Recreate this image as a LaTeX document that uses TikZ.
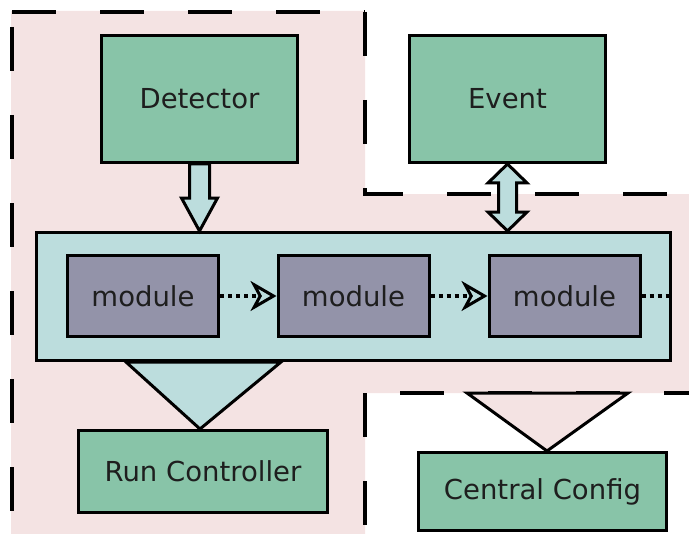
\documentclass[tikz,border=0pt]{standalone}
\usepackage{fontspec}
\setmainfont{DejaVu Sans}
\usetikzlibrary{arrows.meta,calc}
\definecolor{boxgreen}{RGB}{136,196,168}
\definecolor{contcyan}{RGB}{188,221,221}
\definecolor{modgray}{RGB}{147,147,169}
\definecolor{bgpink}{RGB}{244,227,227}
\definecolor{txt}{RGB}{30,30,30}
\tikzset{
  outer/.style={draw=black, line width=1.5pt, fill=boxgreen, inner sep=0pt,
    minimum width=98pt, minimum height=63.5pt, text=txt, font=\fontsize{13.75pt}{16pt}\selectfont},
  modbox/.style={draw=black, line width=1.5pt, fill=modgray, inner sep=0pt,
    minimum width=75.5pt, minimum height=40.5pt, text=txt, font=\fontsize{13.75pt}{16pt}\selectfont},
  contbox/.style={draw=black, line width=1.5pt, fill=contcyan, inner sep=0pt,
    minimum width=317pt, minimum height=64pt},
  border/.style={draw=black, line width=2pt, dash pattern=on 22pt off 22pt},
  hollow/.style={draw=black, line width=1.5pt, line join=miter},
  dotline/.style={line width=2pt, dash pattern=on 2pt off 2pt},
  opentip/.style={-{Stealth[open,length=13pt,width=15pt,inset=4pt,line width=1.5pt]}},
}
\begin{document}
\begin{tikzpicture}[x=0.5pt,y=-0.5pt]
\useasboundingbox (0,0) rectangle (689,534);
% pink region
\fill[bgpink] (11,11) -- (365,11) -- (365,194) -- (689,194) -- (689,393) -- (365,393) -- (365,534) -- (11,534) -- cycle;
% dashed borders
\draw[border] (12,12) -- (365,12);
\draw[border] (365,12) -- (365,194) -- (689,194);
\draw[border] (12,27) -- (12,534);
\draw[border, dash phase=26.5pt] (365,393) -- (689,393);
\draw[border] (365,393) -- (365,534);

% nodes
\node[outer] (det) at (199.5,99) {Detector};
\node[outer] (ev) at (507.5,99) {Event};
\node[outer, minimum width=124.5pt, minimum height=41pt] (rc) at (203,471.5) {Run Controller};
\node[outer, minimum width=124pt, minimum height=39pt] (cc) at (542.5,491.5) {Central Config};

% triangles
\draw[hollow, fill=contcyan] ($(rc.north)+(-77,-67)$) -- ($(rc.north)+(78,-67)$) -- ($(rc.north)+(-3,0)$) -- cycle;
\draw[hollow, fill=bgpink] ($(cc.north)+(-75.5,-58)$) -- ($(cc.north)+(85.5,-58)$) -- ($(cc.north)+(4.5,0)$) -- cycle;

% container
\node[contbox] (cont) at (353.5,296.5) {};
\node[modbox] (m1) at (143,296) {module};
\node[modbox] (m2) at (353.5,296) {module};
\node[modbox] (m3) at (564.5,296) {module};

% dotted connectors
\draw[dotline, opentip] (m1.east) -- (m2.west);
\draw[dotline, opentip] (m2.east) -- (m3.west);
\draw[dotline] (m3.east) -- (cont.east |- m3.east);

% hollow arrow Detector -> container
\coordinate (dtip) at (det.south |- cont.north);
\draw[hollow, fill=contcyan] ($(det.south)+(-10,0)$) -- ($(dtip)+(-10,-33)$) -- ($(dtip)+(-18,-33)$) -- (dtip)
  -- ($(dtip)+(18,-33)$) -- ($(dtip)+(10,-33)$) -- ($(det.south)+(10,0)$) -- cycle;

% double hollow arrow Event <-> container
\coordinate (etip) at (ev.south |- cont.north);
\draw[hollow, fill=contcyan] (ev.south) -- ($(ev.south)+(19.5,19)$) -- ($(ev.south)+(9,19)$) -- ($(etip)+(9,-19)$)
  -- ($(etip)+(19.5,-19)$) -- (etip) -- ($(etip)+(-19.5,-19)$) -- ($(etip)+(-9,-19)$) -- ($(ev.south)+(-9,19)$)
  -- ($(ev.south)+(-19.5,19)$) -- cycle;
\end{tikzpicture}
\end{document}
